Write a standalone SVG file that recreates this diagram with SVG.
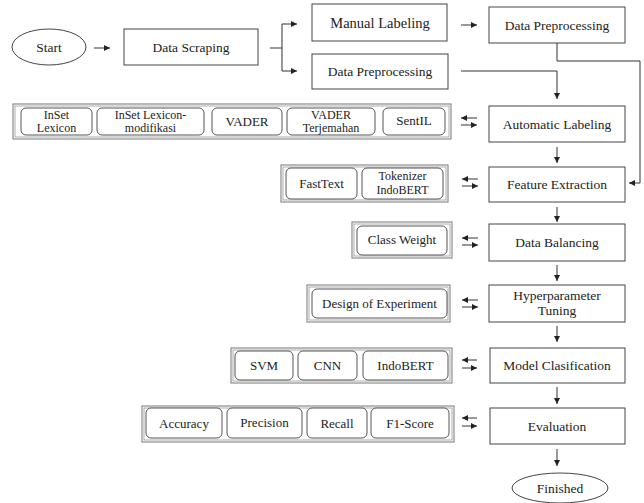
<svg xmlns="http://www.w3.org/2000/svg" width="644" height="503" viewBox="0 0 644 503" font-family="'Liberation Serif', 'Times New Roman', Tinos, 'DejaVu Serif', serif">
<defs>
<style>
text{font-family:'Liberation Serif','Times New Roman',Tinos,'DejaVu Serif',serif;font-size:13px;fill:#222;text-anchor:middle}
.sm{font-size:12px}
.mn{font-size:13.5px}
.box{fill:#fff;stroke:#444;stroke-width:1}
.frame{fill:#fff;stroke:#777;stroke-width:1}
.frame2{fill:none;stroke:#999;stroke-width:0.8}
.item{fill:#fff;stroke:#555;stroke-width:1}
.con{fill:none;stroke:#333;stroke-width:1}
</style>
<marker id="ah" viewBox="0 0 6 6" refX="6" refY="3" markerWidth="6" markerHeight="6" orient="auto" markerUnits="userSpaceOnUse">
<path d="M0,0 L6,3 L0,6 z" fill="#222"/>
</marker>
</defs>
<rect width="644" height="503" fill="#fff"/>

<g id="start"><ellipse cx="49" cy="47" rx="37" ry="18" class="box"/><text class="mn" x="49" y="51.5">Start</text></g>
<g id="scraping"><rect x="124" y="29" width="134" height="36" class="box"/><text class="mn" x="191" y="52">Data Scraping</text></g>
<g id="manual"><rect x="312" y="4" width="135" height="37" class="box"/><text x="380" y="27.5" style="font-size:14.5px">Manual Labeling</text></g>
<g id="preproc1"><rect x="489" y="7" width="136" height="36" class="box"/><text class="mn" x="557" y="29.5">Data Preprocessing</text></g>
<g id="preproc2"><rect x="312" y="54" width="136" height="35" class="box"/><text class="mn" x="380" y="75.5">Data Preprocessing</text></g>
<g id="autolabel"><rect x="489" y="106" width="136" height="36" class="box"/><text class="mn" x="557" y="128.5">Automatic Labeling</text></g>
<g id="feature"><rect x="489" y="167" width="136" height="35" class="box"/><text class="mn" x="557" y="189">Feature Extraction</text></g>
<g id="balancing"><rect x="489" y="224" width="136" height="37" class="box"/><text class="mn" x="557" y="247">Data Balancing</text></g>
<g id="hyper"><rect x="489" y="285" width="136" height="37" class="box"/><text class="mn" x="557" y="300">Hyperparameter</text><text class="mn" x="557" y="315">Tuning</text></g>
<g id="model"><rect x="490" y="348" width="135" height="35" class="box"/><text class="mn" x="557" y="370">Model Clasification</text></g>
<g id="evaluation"><rect x="490" y="408" width="135" height="36" class="box"/><text class="mn" x="557" y="430.5">Evaluation</text></g>
<g id="finished"><ellipse cx="560" cy="488" rx="48" ry="15" class="box"/><text class="mn" x="560" y="492.5">Finished</text></g>

<g id="lexicons">
<rect x="13" y="104" width="438" height="35" class="frame"/><rect x="15" y="106" width="434" height="31" class="frame2"/>
<rect x="21" y="108" width="71" height="27" rx="5" class="item"/><text class="sm" x="56.5" y="119">InSet</text><text class="sm" x="56.5" y="132">Lexicon</text>
<rect x="97" y="108" width="107" height="27" rx="5" class="item"/><text class="sm" x="150.5" y="119">InSet Lexicon-</text><text class="sm" x="150.5" y="132">modifikasi</text>
<rect x="212" y="108" width="70" height="27" rx="5" class="item"/><text x="247" y="126">VADER</text>
<rect x="287" y="108" width="88" height="27" rx="5" class="item"/><text class="sm" x="331" y="119">VADER</text><text class="sm" x="331" y="132">Terjemahan</text>
<rect x="383" y="108" width="62" height="27" rx="5" class="item"/><text x="414" y="125">SentIL</text>
</g>

<g id="extractors">
<rect x="281" y="165" width="167" height="37" class="frame"/><rect x="283" y="167" width="163" height="33" class="frame2"/>
<rect x="286" y="168" width="71" height="31" rx="5" class="item"/><text x="321.5" y="188">FastText</text>
<rect x="362" y="168" width="81" height="31" rx="5" class="item"/><text class="sm" x="402.5" y="180">Tokenizer</text><text class="sm" x="402.5" y="194">IndoBERT</text>
</g>

<g id="weights">
<rect x="352" y="222" width="100" height="36" class="frame"/><rect x="354" y="224" width="96" height="32" class="frame2"/>
<rect x="357" y="226" width="90" height="29" rx="5" class="item"/><text x="402" y="244">Class Weight</text>
</g>

<g id="doe">
<rect x="307" y="285" width="143" height="37" class="frame"/><rect x="309" y="287" width="139" height="33" class="frame2"/>
<rect x="312" y="289" width="135" height="29" rx="5" class="item"/><text x="379.5" y="308">Design of Experiment</text>
</g>

<g id="models">
<rect x="231" y="348" width="221" height="35" class="frame"/><rect x="233" y="350" width="217" height="31" class="frame2"/>
<rect x="235" y="351" width="58" height="29" rx="5" class="item"/><text x="264" y="370">SVM</text>
<rect x="298" y="351" width="59" height="29" rx="5" class="item"/><text x="327.5" y="370">CNN</text>
<rect x="363" y="351" width="85" height="29" rx="5" class="item"/><text x="405.5" y="370">IndoBERT</text>
</g>

<g id="metrics">
<rect x="142" y="406" width="312" height="36" class="frame"/><rect x="144" y="408" width="308" height="32" class="frame2"/>
<rect x="146" y="408" width="76" height="30" rx="5" class="item"/><text x="184" y="428">Accuracy</text>
<rect x="227" y="408" width="75" height="30" rx="5" class="item"/><text x="264.5" y="427">Precision</text>
<rect x="307" y="408" width="60" height="30" rx="5" class="item"/><text x="337" y="428">Recall</text>
<rect x="371" y="408" width="78" height="30" rx="5" class="item"/><text x="410" y="428">F1-Score</text>
</g>

<g id="connectors">
<path class="con" d="M94,48 H110" marker-end="url(#ah)"/>
<path class="con" d="M270,48 H282 M282,24 V71"/>
<path class="con" d="M282,24 H297" marker-end="url(#ah)"/>
<path class="con" d="M282,71 H297" marker-end="url(#ah)"/>
<path class="con" d="M461,25 H477" marker-end="url(#ah)"/>
<path class="con" d="M461,71 H557 V99" marker-end="url(#ah)"/>
<path class="con" d="M557,43 V61 H640 V183 H629" marker-end="url(#ah)"/>
<path class="con" d="M557,147 V163" marker-end="url(#ah)"/>
<path class="con" d="M557,207 V222" marker-end="url(#ah)"/>
<path class="con" d="M557,265 V281" marker-end="url(#ah)"/>
<path class="con" d="M557,326 V342" marker-end="url(#ah)"/>
<path class="con" d="M557,387 V404" marker-end="url(#ah)"/>
<path class="con" d="M557,449 V466" marker-end="url(#ah)"/>
<path class="con" d="M477,118 H461" marker-end="url(#ah)"/>
<path class="con" d="M461,125 H477" marker-end="url(#ah)"/>
<path class="con" d="M478,179 H462" marker-end="url(#ah)"/>
<path class="con" d="M462,186 H478" marker-end="url(#ah)"/>
<path class="con" d="M478,238 H462" marker-end="url(#ah)"/>
<path class="con" d="M462,245 H478" marker-end="url(#ah)"/>
<path class="con" d="M478,300 H462" marker-end="url(#ah)"/>
<path class="con" d="M462,307 H478" marker-end="url(#ah)"/>
<path class="con" d="M477,360 H462" marker-end="url(#ah)"/>
<path class="con" d="M462,368 H477" marker-end="url(#ah)"/>
<path class="con" d="M477,418 H462" marker-end="url(#ah)"/>
<path class="con" d="M462,426 H477" marker-end="url(#ah)"/>
</g>
</svg>
